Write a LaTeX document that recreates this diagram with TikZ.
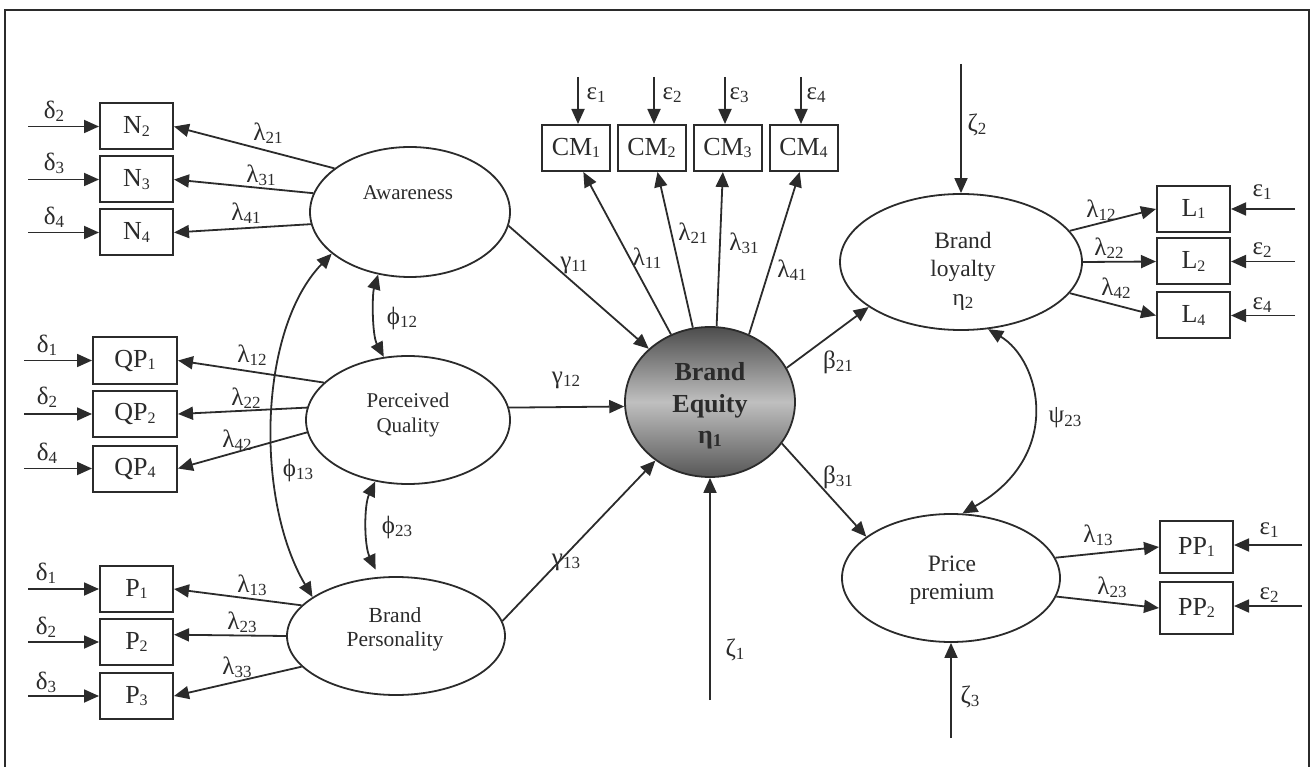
\documentclass[tikz,border=0pt]{standalone}
\usepackage{fontspec}
\setmainfont{Liberation Serif}
\usetikzlibrary{arrows.meta,shapes.geometric,calc}
\definecolor{ink}{HTML}{2B2B2B}
\newcommand\gs[2]{#1\raisebox{-0.13em}{\fontsize{17}{17}\selectfont #2}}
\newcommand\bsub[2]{#1\raisebox{-0.1em}{\fontsize{16}{16}\selectfont #2}}
\begin{document}
\begin{tikzpicture}[x=1pt,y=-1pt,
  box/.style={draw=ink,line width=2pt,inner sep=0pt,minimum width=73pt,minimum height=46pt,font=\fontsize{26}{26}\selectfont,text=ink},
  lat/.style={ellipse,draw=ink,line width=1.8pt,inner sep=0pt},
  arr/.style={draw=ink,line width=1.8pt,-{Triangle[length=15pt,width=13pt]}},
  darr/.style={draw=ink,line width=1.8pt,{Triangle[length=15pt,width=13pt]}-{Triangle[length=15pt,width=13pt]}},
  gl/.style={font=\fontsize{25}{25}\selectfont,text=ink,inner sep=0pt},
  lt/.style={align=center,text=ink,inner sep=0pt}]
\useasboundingbox (0,0) rectangle (1312,767);
\draw[ink,line width=2.2pt] (5,767) -- (5,10) -- (1309,10) -- (1309,767);

% latent variables
\node[lat,minimum width=200pt,minimum height=130pt] (Aw) at (410,212) {};
\node[lat,minimum width=204pt,minimum height=128pt] (PQ) at (408,420) {};
\node[lat,minimum width=218pt,minimum height=118pt] (BP) at (396,636) {};
\node[lat,minimum width=170pt,minimum height=150pt,top color=black!70,bottom color=black!66,middle color=black!25] (BE) at (710,402) {};
\node[lat,minimum width=242pt,minimum height=136pt] (BL) at (961,262) {};
\node[lat,minimum width=218pt,minimum height=128pt] (PPr) at (951,578) {};

\node[lt,font=\fontsize{21}{25}\selectfont] (AwT) at (408,193) {Awareness};
\node[lt,font=\fontsize{21}{25}\selectfont] (PQT) at (408,415) {Perceived\\Quality};
\node[lt,font=\fontsize{21.5}{24}\selectfont] (BPT) at (395,629) {Brand\\Personality};
\node[lt,font=\fontsize{26}{31.5}\selectfont\bfseries] (BET) at (710,406) {Brand\\Equity\\η\raisebox{-0.12em}{\fontsize{18}{18}\selectfont 1}};
\node[lt,font=\fontsize{23.5}{28.5}\selectfont] (BLT) at (963,271) {Brand\\loyalty\\\gs{η}{2}};
\node[lt,font=\fontsize{23.5}{28}\selectfont] (PPT) at (952,580) {Price\\premium};

% indicator boxes
\node[box] (N2) at (136.5,126.5) {\bsub{N}{2}};
\node[box] (N3) at (136.5,179.5) {\bsub{N}{3}};
\node[box] (N4) at (136.5,232.5) {\bsub{N}{4}};
\node[box,minimum width=84pt] (QP1) at (135,360.5) {\bsub{QP}{1}};
\node[box,minimum width=84pt] (QP2) at (135,414) {\bsub{QP}{2}};
\node[box,minimum width=84pt] (QP4) at (135,468.5) {\bsub{QP}{4}};
\node[box] (P1) at (136.5,589) {\bsub{P}{1}};
\node[box] (P2) at (136.5,642) {\bsub{P}{2}};
\node[box] (P3) at (136.5,696) {\bsub{P}{3}};
\node[box,minimum width=68pt] (CM1) at (576,148) {\bsub{CM}{1}};
\node[box,minimum width=68pt] (CM2) at (651.5,148) {\bsub{CM}{2}};
\node[box,minimum width=68pt] (CM3) at (727.5,148) {\bsub{CM}{3}};
\node[box,minimum width=68pt] (CM4) at (803.5,148) {\bsub{CM}{4}};
\node[box] (L1) at (1193.5,209) {\bsub{L}{1}};
\node[box] (L2) at (1193.5,261.5) {\bsub{L}{2}};
\node[box] (L4) at (1193.5,315.5) {\bsub{L}{4}};
\node[box,minimum height=52pt] (PP1) at (1196.5,547) {\bsub{PP}{1}};
\node[box,minimum height=52pt] (PP2) at (1196.5,608) {\bsub{PP}{2}};

% free ends of error arrows
\coordinate (dN2) at (28,126.5);
\coordinate (dN3) at (28,179.5);
\coordinate (dN4) at (28,232.5);
\coordinate (dQ1) at (24,360.5);
\coordinate (dQ2) at (24,414);
\coordinate (dQ4) at (24,468.5);
\coordinate (dP1) at (28,589);
\coordinate (dP2) at (28,642);
\coordinate (dP3) at (28,696);
\coordinate (eC1) at (578,77);
\coordinate (eC2) at (654,77);
\coordinate (eC3) at (725,77);
\coordinate (eC4) at (801,77);
\coordinate (eL1) at (1295,209);
\coordinate (eL2) at (1295,261.5);
\coordinate (eL4) at (1295,315.5);
\coordinate (eP1) at (1302,545);
\coordinate (eP2) at (1302,606);
\coordinate (z1) at (710,700);
\coordinate (z2) at (961,64);
\coordinate (z3) at (951,738);

\foreach \c/\n in {dN2/N2,dN3/N3,dN4/N4,dQ1/QP1,dQ2/QP2,dQ4/QP4,dP1/P1,dP2/P2,dP3/P3}
  \draw[arr] (\c) -- (\n.west);
\foreach \c/\n in {eC1/CM1,eC2/CM2,eC3/CM3,eC4/CM4}
  \draw[arr] (\c) -- (\c |- \n.north);
\foreach \c/\n in {eL1/L1,eL2/L2,eL4/L4,eP1/PP1,eP2/PP2}
  \draw[arr] (\c) -- (\n.east |- \c);
\draw[arr] (z1) -- (BE.south);
\draw[arr] (z2) -- (BL.north);
\draw[arr] (z3) -- (PPr.south);

% loadings
\draw[arr] (Aw.150) -- (N2.east);
\draw[arr] (Aw.169) -- (N3.east);
\draw[arr] (Aw.187) -- (N4.east);
\draw[arr] (PQ.156) -- (QP1.east);
\draw[arr] (PQ.173) -- (QP2.east);
\draw[arr] (PQ.187) -- (QP4.east);
\draw[arr] (BP.162) -- (P1.east);
\draw[arr] (BP.180) -- (P2.11);
\draw[arr] (BP.198) -- (P3.east);
\draw[arr] (BE.120) -- (CM1.287);
\draw[arr] (BE.103) -- (CM2.284);
\draw[arr] (BE.85) -- (CM3.259);
\draw[arr] (BE.60) -- (CM4.261);
\draw[arr] (BL.16) -- (L1.west);
\draw[arr] (BL.0) -- (L2.west);
\draw[arr] (BL.344) -- (L4.west);
\draw[arr] (PPr.11) -- (PP1.west);
\draw[arr] (PPr.350) -- (PP2.west);

% structural paths
\draw[arr] (Aw.352) -- (BE.139);
\draw[arr] (PQ.7) -- (BE.183);
\draw[arr] (BP.8) -- (BE.227);
\draw[arr] (BE.24) -- (BL.206);
\draw[arr] (BE.330) -- (PPr.154.5);

% covariances
\draw[darr] (Aw.243) .. controls (372,295) and (372,335) .. (PQ.111);
\draw[darr,shorten >=8pt] (PQ.242) .. controls (364,505) and (364,545) .. (BP.106);
\draw[darr] (Aw.208) .. controls (258,330) and (255,500) .. (BP.155);
\draw[darr] (BL.292) .. controls (1040,360) and (1065,455) .. (PPr.80);

% labels
\node[gl] (ld1) at (54,111) {\gs{δ}{2}};
\node[gl] (ld2) at (54,163) {\gs{δ}{3}};
\node[gl] (ld3) at (54,217) {\gs{δ}{4}};
\node[gl] (ld4) at (47,345) {\gs{δ}{1}};
\node[gl] (ld5) at (47,397) {\gs{δ}{2}};
\node[gl] (ld6) at (47,453) {\gs{δ}{4}};
\node[gl] (ld7) at (46,573) {\gs{δ}{1}};
\node[gl] (ld8) at (46,627) {\gs{δ}{2}};
\node[gl] (ld9) at (46,682) {\gs{δ}{3}};
\node[gl] (ll1) at (268,133) {\gs{λ}{21}};
\node[gl] (ll2) at (261,175) {\gs{λ}{31}};
\node[gl] (ll3) at (246,213) {\gs{λ}{41}};
\node[gl] (ll4) at (252,355) {\gs{λ}{12}};
\node[gl] (ll5) at (246,398) {\gs{λ}{22}};
\node[gl] (ll6) at (237,440) {\gs{λ}{42}};
\node[gl] (ll7) at (252,585) {\gs{λ}{13}};
\node[gl] (ll8) at (242,622) {\gs{λ}{23}};
\node[gl] (ll9) at (237,667) {\gs{λ}{33}};
\node[gl] (lf1) at (402,318) {\gs{ϕ}{12}};
\node[gl] (lf2) at (298,470) {\gs{ϕ}{13}};
\node[gl] (lf3) at (397,527) {\gs{ϕ}{23}};
\node[gl] (lg1) at (574,265) {\gs{γ}{11}};
\node[gl] (lg2) at (566,380) {\gs{γ}{12}};
\node[gl] (lg3) at (566,562) {\gs{γ}{13}};
\node[gl] (le1) at (596,95) {\gs{ε}{1}};
\node[gl] (le2) at (672,95) {\gs{ε}{2}};
\node[gl] (le3) at (739,95) {\gs{ε}{3}};
\node[gl] (le4) at (816,95) {\gs{ε}{4}};
\node[gl] (lc1) at (647,258) {\gs{λ}{11}};
\node[gl] (lc2) at (693,233) {\gs{λ}{21}};
\node[gl] (lc3) at (744,243) {\gs{λ}{31}};
\node[gl] (lc4) at (792,270) {\gs{λ}{41}};
\node[gl] (lz1) at (735,650) {\gs{ζ}{1}};
\node[gl] (lb1) at (838,362) {\gs{β}{21}};
\node[gl] (lb2) at (838,477) {\gs{β}{31}};
\node[gl] (lz2) at (977,125) {\gs{ζ}{2}};
\node[gl] (lL1) at (1101,210) {\gs{λ}{12}};
\node[gl] (lL2) at (1109,248) {\gs{λ}{22}};
\node[gl] (lL3) at (1116,288) {\gs{λ}{42}};
\node[gl] (leL1) at (1262,192) {\gs{ε}{1}};
\node[gl] (leL2) at (1262,250) {\gs{ε}{2}};
\node[gl] (leL3) at (1262,305) {\gs{ε}{4}};
\node[gl] (lpsi) at (1065,418) {\gs{ψ}{23}};
\node[gl] (lP1) at (1098,535) {\gs{λ}{13}};
\node[gl] (lP2) at (1112,587) {\gs{λ}{23}};
\node[gl] (leP1) at (1269,530) {\gs{ε}{1}};
\node[gl] (leP2) at (1269,595) {\gs{ε}{2}};
\node[gl] (lz3) at (970,697) {\gs{ζ}{3}};
\end{tikzpicture}
\end{document}
